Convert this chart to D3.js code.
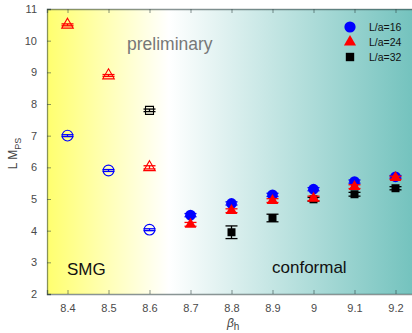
<!DOCTYPE html>
<html>
<head>
<meta charset="utf-8">
<script src="https://cdn.jsdelivr.net/npm/d3@7"></script>
<style>
  body { margin: 0; background: #fff; }
  svg { display: block; font-family: "Liberation Sans", Arial, sans-serif; }
</style>
</head>
<body>
<div id="chart"></div>
<script>
// beta_h values
const betas = [8.4, 8.5, 8.6, 8.7, 8.8, 8.9, 9.0, 9.1, 9.2];

// L/a = 16 (blue circles); first three open (SMG side)
const l16Beta = [8.4, 8.5, 8.6, 8.7, 8.8, 8.9, 9.0, 9.1, 9.2];
const l16Val  = [7.0, 5.9, 4.03, 4.49, 4.86, 5.13, 5.31, 5.55, 5.70];
const l16Err  = [0.03, 0.03, 0.03, 0.05, 0.05, 0.05, 0.05, 0.05, 0.04];

// L/a = 24 (red triangles)
const l24Beta = [8.4, 8.5, 8.6, 8.7, 8.8, 8.9, 9.0, 9.1, 9.2];
const l24Val  = [10.5, 8.9, 6.0, 4.2, 4.63, 4.95, 5.02, 5.39, 5.67];
const l24Err  = [0.03, 0.03, 0.05, 0.06, 0.06, 0.06, 0.07, 0.06, 0.05];

// L/a = 32 (black squares)
const l32Beta = [8.6, 8.8, 8.9, 9.0, 9.1, 9.2];
const l32Val  = [7.8, 3.95, 4.40, 4.99, 5.15, 5.34];
const l32Err  = [0.04, 0.2, 0.12, 0.06, 0.06, 0.05];

const openBelow = 8.65; // points left of this are drawn open
const yTicks = [2, 3, 4, 5, 6, 7, 8, 9, 10, 11];

const W = 412, H = 333;
const margin = { top: 9, right: -4, bottom: 39, left: 47 };

const svg = d3.select('#chart').append('svg')
  .attr('width', W).attr('height', H);

const x = d3.scaleLinear().domain([8.35, 9.25]).range([margin.left, W - margin.right]);
const y = d3.scaleLinear().domain([2, 11]).range([H - margin.bottom, margin.top]);

// background gradient
const defs = svg.append('defs');
const grad = defs.append('linearGradient').attr('id', 'bg')
  .attr('gradientUnits', 'userSpaceOnUse')
  .attr('x1', x(8.35)).attr('x2', x(9.25)).attr('y1', 0).attr('y2', 0);
grad.append('stop').attr('offset', '0%').attr('stop-color', '#ffff6e');
grad.append('stop').attr('offset', '33%').attr('stop-color', '#ffffff');
grad.append('stop').attr('offset', '100%').attr('stop-color', '#72c2bd');

svg.append('rect')
  .attr('x', x(8.35)).attr('y', y(11))
  .attr('width', x(9.25) - x(8.35)).attr('height', y(2) - y(11))
  .attr('fill', 'url(#bg)');

// axes
const axisColor = 'rgba(40,60,60,0.55)';
const gx = svg.append('g').attr('transform', `translate(0,${y(2)})`)
  .call(d3.axisBottom(x).tickValues(betas).tickSize(-4).tickPadding(10)
    .tickFormat(d => d3.format('')(+d.toFixed(1))));
const gxTop = svg.append('g').attr('transform', `translate(0,${y(11)})`)
  .call(d3.axisTop(x).tickValues(betas).tickSize(-4).tickFormat(''));
const gy = svg.append('g').attr('transform', `translate(${x(8.35)},0)`)
  .call(d3.axisLeft(y).tickValues(yTicks).tickSize(-4).tickPadding(10));
const gyR = svg.append('g').attr('transform', `translate(${x(9.25)},0)`)
  .call(d3.axisRight(y).tickValues(yTicks).tickSize(-4).tickFormat(''));

[gx, gxTop, gy, gyR].forEach(g => {
  g.select('.domain').attr('stroke', axisColor).attr('stroke-width', 1.3);
  g.selectAll('.tick line').attr('stroke', axisColor);
  g.selectAll('.tick text').attr('fill', '#4a4a4a').style('font-size', '11px');
});

// axis titles
svg.append('text')
  .attr('x', 227).attr('y', 327)
  .attr('fill', '#444').style('font-size', '12px').style('font-style', 'italic')
  .text('β')
  .append('tspan').attr('dy', 3).style('font-size', '10px').style('font-style', 'normal').text('h');

svg.append('text')
  .attr('transform', `translate(17,${(y(2) + y(11)) / 2 + 2}) rotate(-90)`)
  .attr('text-anchor', 'middle')
  .attr('fill', '#444').style('font-size', '12px')
  .text('L M')
  .append('tspan').attr('dy', 4).style('font-size', '9px').text('PS');

// annotations
svg.append('text').attr('x', 127).attr('y', 50)
  .attr('fill', '#777').style('font-size', '17.5px').text('preliminary');
svg.append('text').attr('x', 67).attr('y', 275)
  .attr('fill', '#111').style('font-size', '17px').text('SMG');
svg.append('text').attr('x', 272).attr('y', 273)
  .attr('fill', '#111').style('font-size', '17px').text('conformal');

// series
const series = [
  { beta: l16Beta, val: l16Val, err: l16Err, color: '#0000ff', shape: d3.symbolCircle, size: 90, label: 'L/a=16' },
  { beta: l32Beta, val: l32Val, err: l32Err, color: '#000000', shape: d3.symbolSquare, size: 64, label: 'L/a=32' },
  { beta: l24Beta, val: l24Val, err: l24Err, color: '#ff0000', shape: d3.symbolTriangle, size: 58, label: 'L/a=24' }
];

const capW = 6;
series.forEach(s => {
  const g = svg.append('g');
  const pts = s.beta.map((b, i) => ({ b, v: s.val[i], e: s.err[i] }));
  const pt = g.selectAll('g.pt').data(pts).enter().append('g')
    .attr('class', 'pt');
  // error bars
  pt.append('line')
    .attr('x1', d => x(d.b)).attr('x2', d => x(d.b))
    .attr('y1', d => y(d.v - d.e)).attr('y2', d => y(d.v + d.e))
    .attr('stroke', s.color).attr('stroke-width', 1.3);
  [-1, 1].forEach(sg => {
    pt.append('line')
      .attr('x1', d => x(d.b) - capW).attr('x2', d => x(d.b) + capW)
      .attr('y1', d => y(d.v + sg * d.e)).attr('y2', d => y(d.v + sg * d.e))
      .attr('stroke', s.color).attr('stroke-width', 1.3);
  });
  pt.append('path')
    .attr('d', d3.symbol().type(s.shape).size(s.size))
    .attr('transform', d => `translate(${x(d.b)},${y(d.v)})`)
    .attr('fill', d => d.b < openBelow ? 'none' : s.color)
    .attr('stroke', s.color)
    .attr('stroke-width', d => d.b < openBelow ? 1.1 : 0);
});

// legend
const legend = [series[0], series[2], series[1]];
const lg = svg.append('g');
legend.forEach((s, i) => {
  const ly = 27 + i * 15;
  lg.append('path')
    .attr('d', d3.symbol().type(s.shape).size(s.size * 1.1))
    .attr('transform', `translate(350,${ly})`)
    .attr('fill', s.color);
  lg.append('text').attr('x', 369).attr('y', ly + 4)
    .attr('fill', '#111').style('font-size', '10.5px').text(s.label);
});
</script>
</body>
</html>
